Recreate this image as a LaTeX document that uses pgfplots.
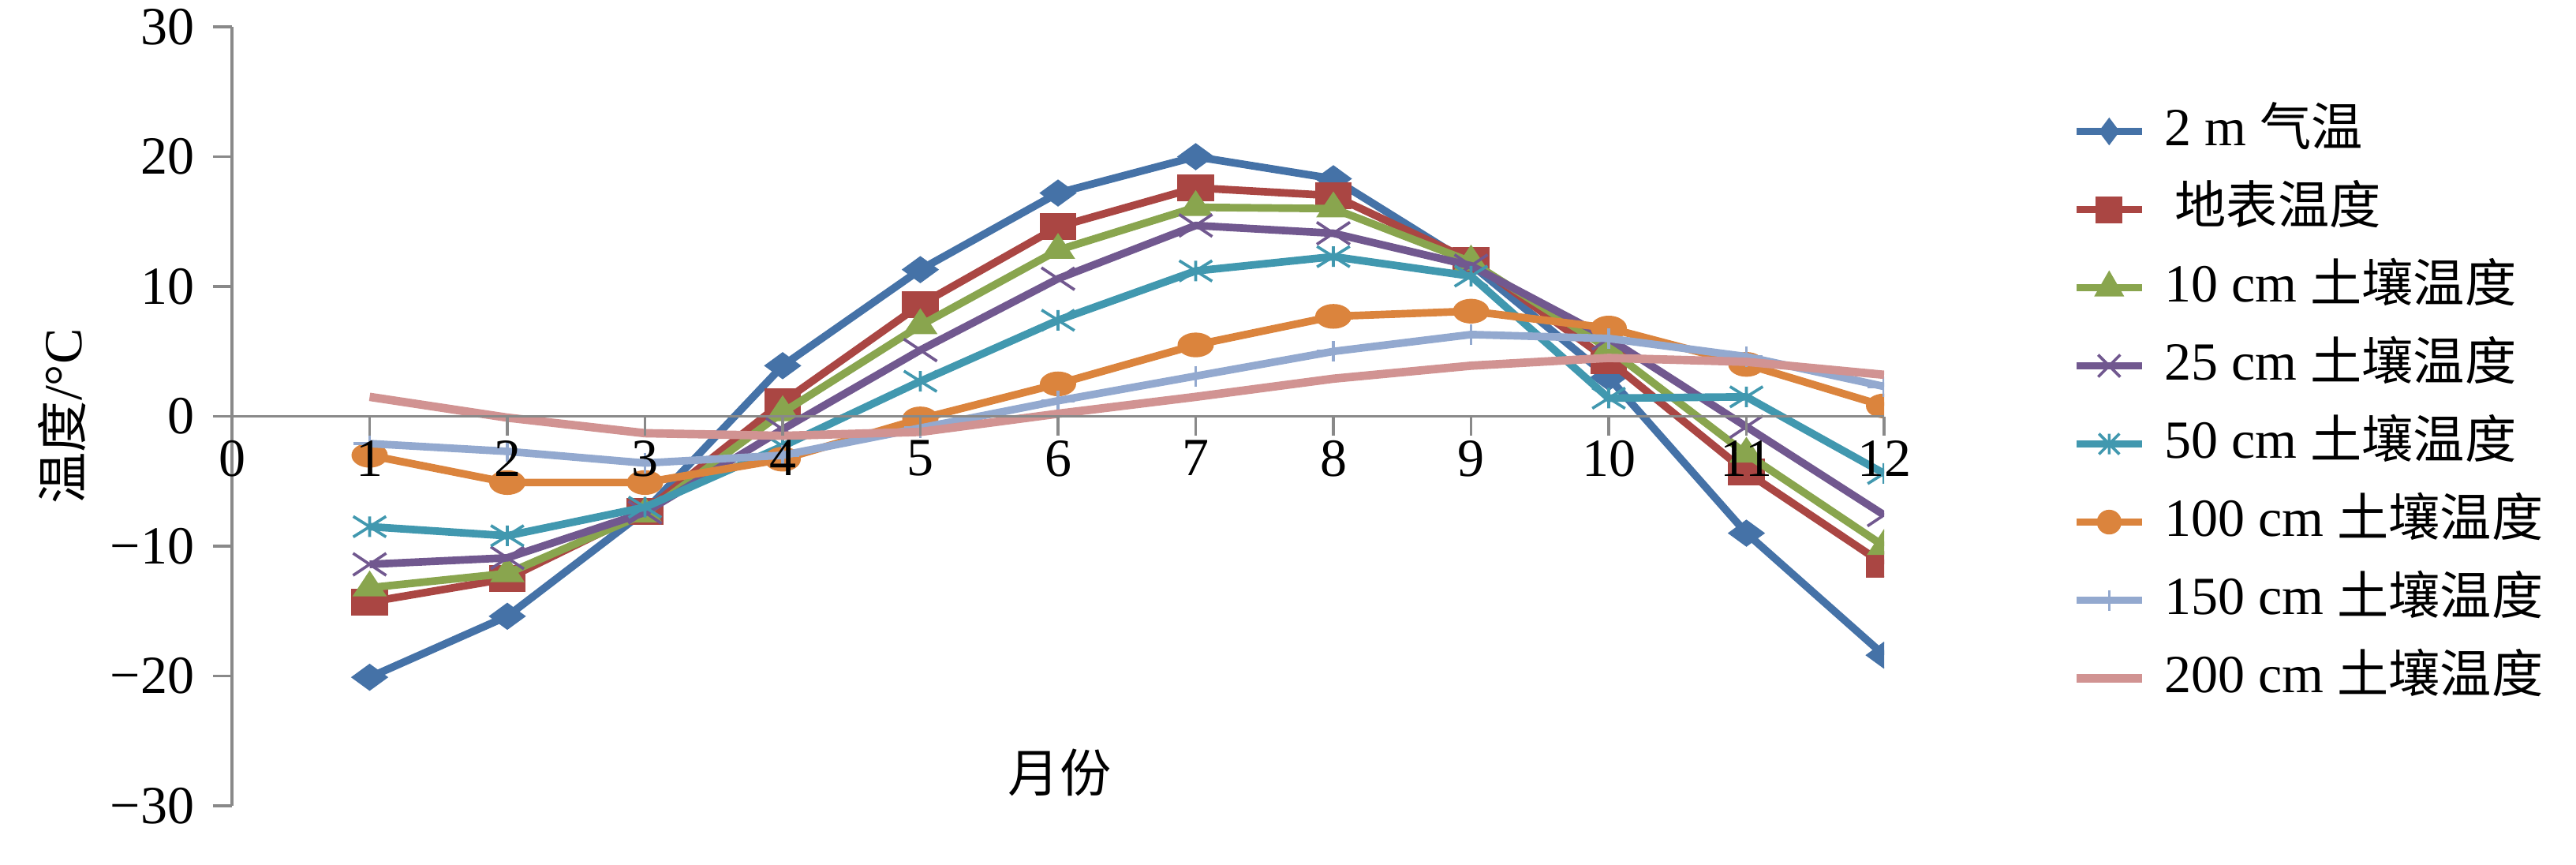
\documentclass[border=0pt]{standalone}
\usepackage{fontspec}
\setmainfont{Liberation Serif}
\newfontfamily\cjk{Noto Sans CJK SC}[Scale=0.96]
\usepackage{pgfplots}
\usepackage{pgfplotstable}
\pgfplotsset{compat=1.18}

\definecolor{axisgray}{HTML}{898989}
\definecolor{cA}{HTML}{4572A7}
\definecolor{cB}{HTML}{AA4643}
\definecolor{cC}{HTML}{89A54E}
\definecolor{cD}{HTML}{71588F}
\definecolor{cE}{HTML}{4198AF}
\definecolor{cF}{HTML}{DB843D}
\definecolor{cG}{HTML}{93A9CF}
\definecolor{cH}{HTML}{D19392}

% Excel style cross and star marks
\pgfdeclareplotmark{xx}{%
  \pgfpathmoveto{\pgfqpoint{-\pgfplotmarksize}{-\pgfplotmarksize}}%
  \pgfpathlineto{\pgfqpoint{\pgfplotmarksize}{\pgfplotmarksize}}%
  \pgfpathmoveto{\pgfqpoint{-\pgfplotmarksize}{\pgfplotmarksize}}%
  \pgfpathlineto{\pgfqpoint{\pgfplotmarksize}{-\pgfplotmarksize}}%
  \pgfusepathqstroke}
\pgfdeclareplotmark{xstar}{%
  \pgfpathmoveto{\pgfqpoint{-\pgfplotmarksize}{-\pgfplotmarksize}}%
  \pgfpathlineto{\pgfqpoint{\pgfplotmarksize}{\pgfplotmarksize}}%
  \pgfpathmoveto{\pgfqpoint{-\pgfplotmarksize}{\pgfplotmarksize}}%
  \pgfpathlineto{\pgfqpoint{\pgfplotmarksize}{-\pgfplotmarksize}}%
  \pgfpathmoveto{\pgfqpoint{0pt}{-\pgfplotmarksize}}%
  \pgfpathlineto{\pgfqpoint{0pt}{\pgfplotmarksize}}%
  \pgfusepathqstroke}

% horizontal stretch of the marks in the plot (not in the legend)
\tikzset{mx/.store in=\mxval, mx=1}

% monthly means, deg C
\pgfplotstableread{
m  air    surf   d10    d25    d50    d100   d150   d200
1  -20.1  -14.3  -13.2  -11.4  -8.5   -3.0   -2.1   1.5
2  -15.4  -12.5  -12.1  -10.9  -9.2   -5.1   -2.7   -0.1
3  -7.3   -7.3   -7.5   -7.4   -7.0   -5.1   -3.6   -1.3
4  3.9    1.1    0.3    -1.0   -2.3   -3.3   -3.0   -1.5
5  11.3   8.6    7.0    5.1    2.7    -0.2   -0.9   -1.2
6  17.2   14.6   12.8   10.6   7.4    2.5    1.2    0.2
7  20.0   17.6   16.1   14.7   11.2   5.5    3.1    1.5
8  18.3   17.0   16.0   14.1   12.3   7.7    5.0    2.9
9  11.7   12.0   11.9   11.6   10.8   8.1    6.3    3.9
10 3.0    4.3    5.2    6.0    1.4    6.8    6.0    4.5
11 -9.0   -4.3   -2.9   -0.8   1.5    4.0    4.6    4.2
12 -18.4  -11.4  -10.0  -7.6   -4.4   0.8    2.3    3.2
}\tdata

\begin{document}
\fontsize{10.2bp}{12bp}\selectfont
\begin{tikzpicture}
\path[use as bounding box] (-44.1bp,-11.25bp) rectangle (445.65bp,153.15bp);
\begin{axis}[
  axis on top,
  at={(0,0)}, anchor=south west,
  scale only axis, width=314.1bp, height=148.05bp,
  xmin=0, xmax=12, ymin=-30, ymax=30,
  axis x line*=middle, axis y line*=left,
  axis line style={draw=axisgray, line width=0.55bp},
  xtick={0,1,2,3,4,5,6,7,8,9,10,11,12},
  xticklabels={0,1,2,3,4,5,6,7,8,9,10,11,12},
  xticklabel style={yshift=2.6bp},
  ytick={-30,-20,-10,0,10,20,30},
  yticklabels={−30,−20,−10,0,10,20,30},
  tick style={draw=axisgray, line width=0.55bp},
  major tick length=3.6bp,
  tick align=outside,
  hide obscured x ticks=false, hide obscured y ticks=false,
  /pgf/number format/assume math mode=true,
  clip marker paths=true,
  xlabel={{\cjk 月份}},
  ylabel={{\cjk 温度}/°C},
  xlabel style={at={(axis description cs:0.501,0.0426)}, anchor=center},
  ylabel style={at={(axis description cs:-0.103,0.5)}, anchor=center},
  legend cell align=left,
  legend style={draw=none, fill=none, at={(axis cs:13.36,0.88)}, anchor=west,
    inner sep=0pt, row sep=5.15bp, column sep=3.45bp,
    nodes={inner sep=0pt, text height=7.5bp, text depth=2.2bp}},
  legend image code/.code={
    \draw[mark repeat=2, mark phase=2, #1, mx=1]
      plot coordinates {(0bp,0bp) (6.2bp,0bp) (12.45bp,0bp)};
  },
]
\addplot[cA, line width=1.45bp, mark=diamond*, mark size=2.4bp, mx=1.83,
  mark options={xscale=\mxval, fill=cA, line width=0.3bp}]
  table[x=m, y=air] {\tdata};
\addlegendentry{2 m {\cjk 气温}}
\addplot[cB, line width=1.45bp, mark=square*, mark size=2.4bp, mx=1.38,
  mark options={xscale=\mxval, fill=cB, line width=0.3bp}]
  table[x=m, y=surf] {\tdata};
\addlegendentry{\hspace{2bp}{\cjk 地表温度}}
\addplot[cC, line width=1.45bp, mark=triangle*, mark size=3bp, mx=1.15,
  mark options={xscale=\mxval, fill=cC, line width=0.3bp}]
  table[x=m, y=d10] {\tdata};
\addlegendentry{10 cm {\cjk 土壤温度}}
\addplot[cD, line width=1.45bp, mark=xx, mark size=2.1bp, mx=1.5,
  mark options={xscale=\mxval, line width=0.55bp}]
  table[x=m, y=d25] {\tdata};
\addlegendentry{25 cm {\cjk 土壤温度}}
\addplot[cE, line width=1.45bp, mark=xstar, mark size=1.95bp, mx=1.6,
  mark options={xscale=\mxval, line width=0.55bp}]
  table[x=m, y=d50] {\tdata};
\addlegendentry{50 cm {\cjk 土壤温度}}
\addplot[cF, line width=1.45bp, mark=*, mark size=2.2bp, mx=1.5,
  mark options={xscale=\mxval, fill=cF, line width=0.3bp}]
  table[x=m, y=d100] {\tdata};
\addlegendentry{100 cm {\cjk 土壤温度}}
\addplot[cG, line width=1.45bp, mark=+, mark size=1.95bp, mx=1.6,
  mark options={xscale=\mxval, line width=0.55bp}]
  table[x=m, y=d150] {\tdata};
\addlegendentry{150 cm {\cjk 土壤温度}}
\addplot[cH, line width=1.6bp, no marks]
  table[x=m, y=d200] {\tdata};
\addlegendentry{200 cm {\cjk 土壤温度}}
\end{axis}
\end{tikzpicture}
\end{document}
